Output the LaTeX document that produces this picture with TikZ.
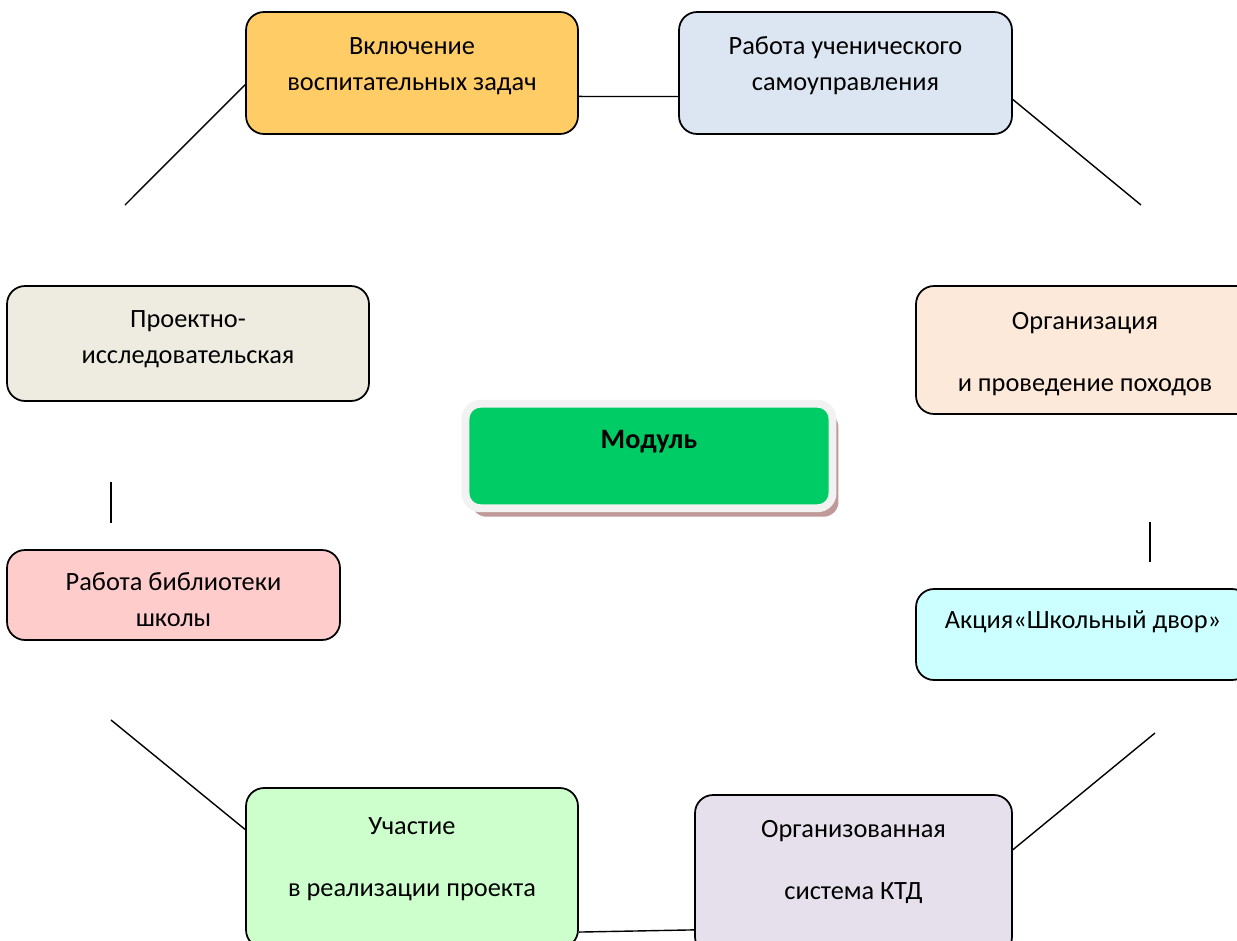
\documentclass[tikz,border=0pt]{standalone}
\usepackage{fontspec}
\setmainfont{Carlito}
\usepackage{xcolor}
\usetikzlibrary{shadows}
\definecolor{inclfill}{HTML}{FFCC66}
\definecolor{selffill}{HTML}{DCE6F2}
\definecolor{projfill}{HTML}{EEECE1}
\definecolor{hikefill}{HTML}{FDE9D9}
\definecolor{modfill}{HTML}{00CC66}
\definecolor{modframe}{HTML}{F2F2F2}
\definecolor{modshadow}{HTML}{C09A9A}
\definecolor{libfill}{HTML}{FFCCCC}
\definecolor{yardfill}{HTML}{CCFFFF}
\definecolor{partfill}{HTML}{CCFFCC}
\definecolor{ktdfill}{HTML}{E5E0EC}
% width, height, top gap, lines
\newcommand{\blocktext}[4]{\parbox[c][#2][t]{#1}{\centering\vspace*{#3}\strut #4}}

\begin{document}
\begin{tikzpicture}[
    x=0.02cm, y=-0.02cm,
    box/.style={rectangle, draw, rounded corners=0.36cm, line width=1pt, inner sep=0pt, font=\fontsize{15}{20.7}\selectfont},
    link/.style={line width=0.8pt}
]
    \useasboundingbox (0,0) rectangle (1237,940);

    % Top row
    \node[box, fill=inclfill] (incl) at (412,73) {\blocktext{6.64cm}{2.44cm}{0.34cm}{Включение\\воспитательных задач}};
    \node[box, fill=selffill] (self) at (845.5,73) {\blocktext{6.66cm}{2.44cm}{0.34cm}{Работа ученического\\самоуправления}};

    % Middle rows
    \node[box, fill=projfill] (proj) at (188,343.5) {\blocktext{7.24cm}{2.3cm}{0.32cm}{Проектно-\\исследовательская}};
    \node[box, fill=hikefill] (hike) at (1085,350) {\blocktext{6.76cm}{2.56cm}{0.36cm}{Организация\\[0.52cm]и проведение походов}};
    \node[box, fill=libfill] (lib) at (173.5,595) {\blocktext{6.66cm}{1.8cm}{0.3cm}{Работа библиотеки\\школы}};
    \node[box, fill=yardfill] (yard) at (1083,634.5) {\blocktext{6.68cm}{1.82cm}{0.28cm}{Акция«Школьный двор»}};

    % Centre
    \node[box, fill=modfill, draw=modframe, line width=4.5pt, rounded corners=0.3cm,
          drop shadow={shadow xshift=0.12cm, shadow yshift=-0.17cm, fill=modshadow, opacity=1},
          font=\fontsize{16}{20.7}\selectfont\bfseries] (modul) at (649,456) {\blocktext{7.34cm}{2.09cm}{0.38cm}{Модуль}};

    % Bottom row
    \node[box, fill=partfill] (part) at (412,868) {\blocktext{6.64cm}{3.2cm}{0.42cm}{Участие\\[0.52cm]в реализации проекта}};
    \node[box, fill=ktdfill] (ktd) at (853.5,875) {\blocktext{6.34cm}{3.2cm}{0.34cm}{Организованная\\[0.52cm]система КТД}};

    % Free ends
    \coordinate (nw) at (125,205);
    \coordinate (ne) at (1141,205);
    \coordinate (wtop) at (111,482);
    \coordinate (wbot) at (111,523);
    \coordinate (etop) at (1150,522);
    \coordinate (ebot) at (1150,562);
    \coordinate (sw) at (111,720);
    \coordinate (se) at (1155,733);

    % Connectors
    \draw[link] (nw) -- (incl.184);
    \draw[link] (incl.352) -- (self.188.5);
    \draw[link] (self.351.5) -- (ne);
    \draw[link] (wtop) -- (wbot);
    \draw[link] (etop) -- (ebot);
    \draw[link] (sw) -- (part.167.8);
    \draw[link] (part.339) -- (ktd.199);
    \draw[link] (ktd.9) -- (se);
\end{tikzpicture}
\end{document}
